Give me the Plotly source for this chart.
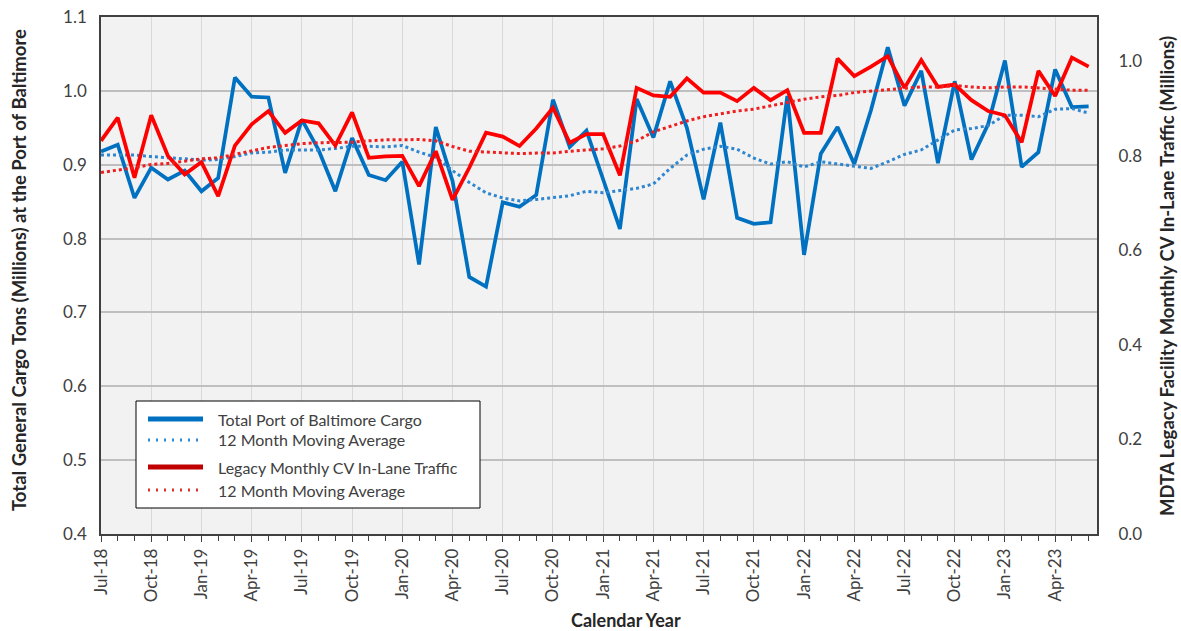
import plotly.graph_objects as go

months = ["Jul-18", "Aug-18", "Sep-18", "Oct-18", "Nov-18", "Dec-18",
          "Jan-19", "Feb-19", "Mar-19", "Apr-19", "May-19", "Jun-19",
          "Jul-19", "Aug-19", "Sep-19", "Oct-19", "Nov-19", "Dec-19",
          "Jan-20", "Feb-20", "Mar-20", "Apr-20", "May-20", "Jun-20",
          "Jul-20", "Aug-20", "Sep-20", "Oct-20", "Nov-20", "Dec-20",
          "Jan-21", "Feb-21", "Mar-21", "Apr-21", "May-21", "Jun-21",
          "Jul-21", "Aug-21", "Sep-21", "Oct-21", "Nov-21", "Dec-21",
          "Jan-22", "Feb-22", "Mar-22", "Apr-22", "May-22", "Jun-22",
          "Jul-22", "Aug-22", "Sep-22", "Oct-22", "Nov-22", "Dec-22",
          "Jan-23", "Feb-23", "Mar-23", "Apr-23", "May-23", "Jun-23"]

# Total general cargo tons at the Port of Baltimore (millions)
port_cargo = [0.918, 0.927, 0.855, 0.896, 0.880, 0.892,
              0.864, 0.882, 1.018, 0.992, 0.991, 0.889,
              0.961, 0.920, 0.864, 0.936, 0.886, 0.879,
              0.904, 0.765, 0.951, 0.878, 0.748, 0.735,
              0.849, 0.843, 0.859, 0.988, 0.924, 0.946,
              0.880, 0.813, 0.989, 0.937, 1.013, 0.950,
              0.853, 0.957, 0.828, 0.820, 0.822, 0.993,
              0.778, 0.915, 0.951, 0.901, 0.974, 1.059,
              0.980, 1.027, 0.902, 1.013, 0.907, 0.955,
              1.041, 0.897, 0.917, 1.029, 0.978, 0.979]

port_cargo_ma = [0.913, 0.913, 0.913, 0.911, 0.910, 0.908,
                 0.906, 0.907, 0.911, 0.916, 0.917, 0.920,
                 0.920, 0.920, 0.922, 0.925, 0.925, 0.924,
                 0.926, 0.917, 0.910, 0.892, 0.876, 0.862,
                 0.855, 0.851, 0.853, 0.856, 0.858, 0.864,
                 0.862, 0.865, 0.868, 0.874, 0.895, 0.913,
                 0.921, 0.925, 0.921, 0.909, 0.901, 0.904,
                 0.897, 0.904, 0.901, 0.898, 0.895, 0.904,
                 0.914, 0.920, 0.933, 0.947, 0.949, 0.953,
                 0.967, 0.967, 0.965, 0.975, 0.976, 0.970]

# MDTA legacy facility monthly CV in-lane traffic (millions)
cv_traffic = [0.832, 0.881, 0.754, 0.886, 0.800, 0.761,
              0.787, 0.715, 0.822, 0.867, 0.895, 0.849,
              0.875, 0.869, 0.822, 0.892, 0.796, 0.799,
              0.800, 0.736, 0.810, 0.707, 0.775, 0.849,
              0.841, 0.821, 0.858, 0.902, 0.828, 0.846,
              0.846, 0.759, 0.944, 0.928, 0.925, 0.964,
              0.934, 0.934, 0.916, 0.944, 0.918, 0.939,
              0.849, 0.849, 1.006, 0.969, 0.989, 1.011,
              0.944, 1.003, 0.946, 0.951, 0.918, 0.895,
              0.886, 0.829, 0.980, 0.927, 1.008, 0.989]

cv_traffic_ma = [0.765, 0.770, 0.775, 0.782, 0.784, 0.789,
                 0.794, 0.796, 0.803, 0.810, 0.818, 0.822,
                 0.826, 0.828, 0.828, 0.829, 0.832, 0.834,
                 0.834, 0.835, 0.832, 0.820, 0.810, 0.808,
                 0.806, 0.805, 0.806, 0.806, 0.810, 0.812,
                 0.815, 0.821, 0.832, 0.851, 0.863, 0.874,
                 0.883, 0.889, 0.895, 0.899, 0.906, 0.914,
                 0.920, 0.925, 0.928, 0.934, 0.937, 0.941,
                 0.943, 0.946, 0.946, 0.949, 0.946, 0.944,
                 0.946, 0.946, 0.944, 0.942, 0.939, 0.939]

legend_labels = ["Total Port of Baltimore Cargo", "12 Month Moving Average",
                 "Legacy Monthly CV In-Lane Traffic", "12 Month Moving Average"]

x = list(range(len(months)))
tick_idx = list(range(0, len(months), 3))
tick_text = [months[i] for i in tick_idx]

BLUE = "#0070C0"
BLUE_MA = "#2E86D1"
RED = "#FF0000"
RED_MA = "#F01E1E"
RED_KEY = "#C00000"
TXT = "#404040"
FONT = "Lato"

# page geometry of the plotting area (pixels)
W, H = 1181, 631
L, R, T, B = 101, 1097, 17, 534


def px(xp):
    return (xp - L) / (R - L)


def py(yp):
    return (B - yp) / (B - T)


fig = go.Figure()
fig.add_trace(go.Scatter(x=x, y=port_cargo, mode="lines", name=legend_labels[0],
                         line=dict(color=BLUE, width=3.75)))
fig.add_trace(go.Scatter(x=x, y=port_cargo_ma, mode="lines", name=legend_labels[1],
                         line=dict(color=BLUE_MA, width=3, dash="3px,3px")))
fig.add_trace(go.Scatter(x=x, y=cv_traffic, mode="lines", name=legend_labels[2],
                         line=dict(color=RED, width=3.75), yaxis="y2"))
fig.add_trace(go.Scatter(x=x, y=cv_traffic_ma, mode="lines", name=legend_labels[3],
                         line=dict(color=RED_MA, width=3, dash="3px,3px"), yaxis="y2"))

# legend box drawn in page pixels
shapes = [dict(type="rect", xref="paper", yref="paper", layer="above",
               x0=px(136), x1=px(480), y0=py(401), y1=py(508),
               fillcolor="white", line=dict(color="black", width=1))]
key_rows = [(419, BLUE, "solid", 5), (440, BLUE_MA, "2px,6px", 3),
            (467, RED_KEY, "solid", 5), (490, "#E03030", "2px,6px", 3)]
annotations = []
for (yy, col, dash, w), label in zip(key_rows, legend_labels):
    shapes.append(dict(type="line", xref="paper", yref="paper", layer="above",
                       x0=px(148), x1=px(203), y0=py(yy), y1=py(yy),
                       line=dict(color=col, width=w, dash=dash)))
    annotations.append(dict(text=label, xref="paper", yref="paper", x=px(216), y=py(yy),
                            xanchor="left", yanchor="middle", showarrow=False,
                            font=dict(family=FONT, size=16, color=TXT)))

# axis titles
annotations += [
    dict(text="<b>Total General Cargo Tons (Millions) at the Port of Baltimore</b>",
         xref="paper", yref="paper", x=px(19), y=py(270), textangle=-90,
         showarrow=False, xanchor="center", yanchor="middle",
         font=dict(family=FONT, size=18.5, color="#262626")),
    dict(text="<b>MDTA Legacy Facility Monthly CV In-Lane Traffic (Millions)</b>",
         xref="paper", yref="paper", x=px(1167), y=py(276), textangle=-90,
         showarrow=False, xanchor="center", yanchor="middle",
         font=dict(family=FONT, size=18.5, color="#262626")),
    dict(text="<b>Calendar Year</b>", xref="paper", yref="paper", x=px(626), y=py(620),
         showarrow=False, xanchor="center", yanchor="middle",
         font=dict(family=FONT, size=18, color="#262626")),
]

fig.update_layout(
    width=W, height=H,
    margin=dict(l=L, r=W - R, t=T, b=H - B),
    paper_bgcolor="white",
    plot_bgcolor="#F2F2F2",
    font=dict(family=FONT, size=17, color=TXT),
    showlegend=False,
    shapes=shapes,
    annotations=annotations,
    xaxis=dict(
        range=[0, 59.5], automargin=False,
        tickmode="array", tickvals=tick_idx, ticktext=tick_text, tickangle=-90,
        ticks="outside", ticklen=6, tickcolor="#404040",
        minor=dict(dtick=1, tick0=0, ticks="outside", ticklen=5, tickcolor="#404040", showgrid=False),
        showgrid=True, gridcolor="#D9D9D9", gridwidth=1,
        showline=True, linecolor="#404040", linewidth=1.5, mirror=True,
        zeroline=False,
        tickfont=dict(family=FONT, size=17, color=TXT),
    ),
    yaxis=dict(
        range=[0.4, 1.1], dtick=0.1, tickformat=".1f", automargin=False,
        showgrid=True, gridcolor="#BFBFBF", gridwidth=1.5,
        showline=True, linecolor="#404040", linewidth=1.5, mirror=True,
        ticks="outside", ticklen=9, tickcolor="rgba(0,0,0,0)", zeroline=False,
        tickfont=dict(family=FONT, size=17, color=TXT),
    ),
    yaxis2=dict(
        range=[0, 1.094], dtick=0.2, tickformat=".1f", automargin=False,
        overlaying="y", side="right", showgrid=False, zeroline=False,
        ticks="outside", ticklen=17, tickcolor="rgba(0,0,0,0)",
        tickfont=dict(family=FONT, size=17, color=TXT),
    ),
)

fig.write_html("out.html")
